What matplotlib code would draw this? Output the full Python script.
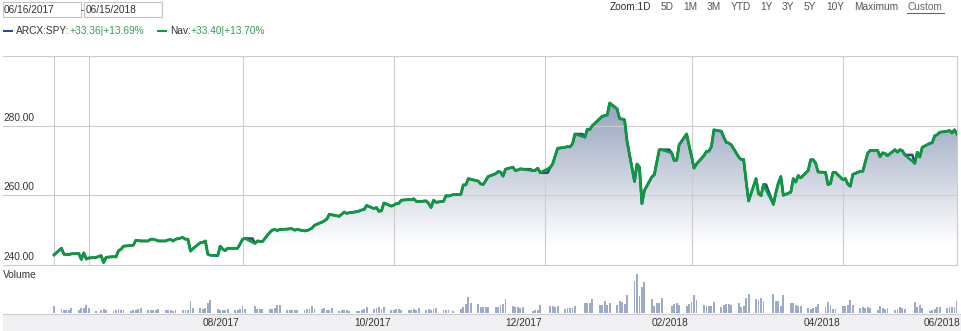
import numpy as np
import pandas as pd
import matplotlib
matplotlib.use("Agg")
import matplotlib.pyplot as plt
import matplotlib.dates as mdates
from matplotlib.patches import Rectangle
from matplotlib.lines import Line2D

plt.rcParams["font.family"] = ["Liberation Sans", "DejaVu Sans"]

W, H = 961, 331

start, end = "2017-06-16", "2018-06-15"
holidays = ["2017-07-04", "2017-09-04", "2017-11-23", "2017-12-25", "2018-01-01",
            "2018-01-15", "2018-02-19", "2018-03-30", "2018-05-28"]
# the SPY series keeps a flat point on these market holidays
spy_holidays = ["2017-09-04", "2017-12-25", "2018-01-01", "2018-01-15",
                "2018-02-19", "2018-03-30", "2018-05-28"]

# closing values, one row per trading week
nav = [
    242.9,
    244.8, 243.1, 243.0, 243.0, 243.2,
    243.3, 241.6, 243.5, 241.7, 242.0,
    242.2, 242.7, 240.7, 242.2,
    242.4, 242.3, 244.1, 244.5, 245.4,
    245.6, 245.7, 247.1, 247.0, 246.9,
    246.9, 247.4, 247.4, 247.2, 246.9,
    246.9, 247.2, 247.3, 246.9, 247.4,
    247.9, 247.4, 247.4, 244.0, 244.7,
    246.4, 246.5, 246.9, 243.1, 242.8,
    242.7, 245.4, 244.6, 244.1, 244.8,
    244.8, 244.8, 246.0, 247.4, 247.6,
    246.2, 246.9, 246.8, 246.7,
    249.4, 250.0, 250.2, 249.9, 250.2,
    250.3, 250.4, 250.4, 250.0, 250.2,
    249.8, 249.9, 250.2, 250.6, 251.4,
    252.3, 252.7, 253.2, 254.6, 254.4,
    254.0, 254.6, 255.2, 254.8, 255.0,
    255.3, 255.5, 255.8, 255.9, 257.1,
    256.2, 256.5, 255.4, 255.6, 257.8,
    256.9, 257.2, 257.6, 257.7, 258.6,
    258.8, 258.7, 259.0, 258.3, 258.2,
    258.4, 257.7, 256.5, 258.6, 258.0,
    258.3, 259.9, 259.8, 260.2,
    260.3, 263.0, 263.0, 264.8, 264.6,
    264.1, 263.3, 263.1, 264.2, 265.4,
    266.2, 266.8, 266.7, 265.5, 267.5,
    268.1, 267.1, 267.3, 267.6, 267.5,
    267.1, 267.2, 267.8, 266.5,
    268.0, 269.0, 271.2, 273.5,
    273.8, 274.0, 273.9, 274.8, 277.6,
    276.7, 279.0, 278.9, 280.0,
    282.0, 282.7, 282.9, 283.1, 286.5,
    284.8, 282.0, 281.9, 281.7, 275.5,
    264.0, 269.0, 268.1, 257.6, 261.4,
    265.3, 265.9, 269.6, 273.1, 273.1,
    272.2, 270.0, 270.1, 274.5,
    277.6, 274.3, 271.2, 267.8, 269.0,
    271.4, 272.6, 272.7, 274.0, 278.8,
    278.4, 276.7, 275.2, 275.0, 274.5,
    271.0, 270.3, 270.3, 264.0, 258.4,
    264.8, 260.5, 259.9, 263.1,
    257.4, 260.8, 263.6, 265.4, 260.0,
    260.9, 264.8, 263.8, 265.7, 265.0,
    267.1, 270.2, 270.2, 269.3, 266.7,
    266.6, 263.1, 263.4, 266.6, 266.6,
    264.5, 264.8, 263.2, 262.6, 266.0,
    266.9, 266.9, 269.5, 272.1, 272.9,
    272.9, 271.1, 272.2, 272.0, 271.4,
    273.1, 272.4, 273.1, 272.8, 271.6,
    269.2, 272.4, 271.0, 273.8,
    274.9, 275.1, 277.1, 277.4, 278.1,
    278.4, 278.6, 277.9, 278.8, 277.6,
]

# daily volume, millions of shares
volume = [
    63,
    36, 27, 27, 27, 45,
    27, 45, 45, 72, 45,
    14, 27, 36, 27,
    14, 22, 30, 22, 22,
    14, 20, 20, 36, 45,
    20, 27, 20, 27, 36,
    27, 22, 22, 14, 27,
    20, 22, 27, 105, 45,
    45, 36, 45, 90, 117,
    36, 27, 27, 27, 36,
    22, 27, 36, 63, 36,
    63, 36, 36, 36,
    36, 36, 45, 72, 72,
    22, 22, 22, 27, 22,
    27, 36, 36, 63, 36,
    36, 45, 27, 27, 45,
    18, 22, 20, 22, 18,
    14, 18, 22, 36, 54,
    36, 45, 54, 36, 54,
    27, 27, 30, 36, 27,
    22, 27, 36, 27, 45,
    27, 36, 27, 36, 45,
    22, 27, 22, 12,
    36, 54, 81, 144, 90,
    81, 54, 50, 54, 50,
    54, 54, 72, 81, 126,
    63, 54, 54, 45, 54,
    18, 27, 27, 72,
    63, 63, 54, 63,
    36, 40, 45, 40, 63,
    90, 90, 90, 126,
    72, 72, 108, 72, 90,
    72, 108, 99, 81, 162,
    288, 351, 153, 234, 279,
    126, 63, 90, 90, 135,
    63, 81, 90, 72,
    63, 81, 99, 162, 117,
    72, 63, 63, 63, 99,
    54, 72, 81, 81, 72,
    90, 54, 63, 135, 171,
    126, 117, 135, 108,
    171, 108, 108, 63, 162,
    90, 90, 72, 63, 63,
    45, 36, 45, 54, 81,
    54, 99, 72, 36, 36,
    63, 63, 72, 117, 72,
    45, 54, 45, 54, 45,
    27, 63, 45, 36, 45,
    27, 36, 54, 45, 36,
    99, 54, 72, 45,
    18, 27, 36, 54, 54,
    45, 54, 54, 54, 108,
]

grid_dates = ["2017-06-30", "2017-08-31", "2017-10-31", "2017-12-31", "2018-02-28", "2018-04-30"]
label_dates = ["2017-08-31", "2017-10-31", "2017-12-31", "2018-02-28", "2018-04-30", "2018-06-30"]
month_labels = ["08/2017", "10/2017", "12/2017", "02/2018", "04/2018", "06/2018"]
price_ticks = [240, 260, 280]
price_grid = [240, 260, 280, 300]

legend_spy = ("ARCX:SPY:", "+33.36|+13.69%")
legend_nav = ("Nav:", "+33.40|+13.70%")
zoom_items = ["Zoom:1D", "5D", "1M", "3M", "YTD", "1Y", "3Y", "5Y", "10Y", "Maximum", "Custom"]
zoom_x = [610, 661, 683, 707, 731, 760, 782, 804, 826, 854, 907]

days = pd.bdate_range(start, end)
days = days[~days.isin(pd.to_datetime(holidays))]
nav_s = pd.Series(nav, index=days)
spy_s = nav_s.reindex(days.union(pd.to_datetime(spy_holidays))).ffill()
xd = mdates.date2num(days)
xs = mdates.date2num(spy_s.index)

TXT = "#333333"
GRID = "#cccccc"
GREEN = "#0b9a3c"
BLUE = "#2b4c7e"
FS = 7.3

fig = plt.figure(figsize=(W / 100, H / 100), dpi=100)
fig.patch.set_facecolor("white")


def box(l, t, r, b):
    return [l / W, 1 - b / H, (r - l) / W, (b - t) / H]


def ftext(x, y, s, **kw):
    kw.setdefault("fontsize", FS)
    kw.setdefault("color", TXT)
    kw.setdefault("va", "center")
    return fig.text(x / W, 1 - y / H, s, **kw)


ax = fig.add_axes(box(3, 56, 957, 265))
vax = fig.add_axes(box(3, 271, 957, 312.5))

x0 = mdates.date2num(pd.Timestamp(start))
x1 = mdates.date2num(pd.Timestamp(end))
ppd = (957 - 54) / (x1 - x0)
xlim = (x0 - (54 - 3) / ppd, x1)

# gradient area under the nav line
top = np.array([0.45, 0.52, 0.66])
v = np.linspace(240, 300, 400)
t = np.clip((v - 246) / 54, 0, 1)[:, None]
img = (1 - t * (1 - top))[:, None, :]
im = ax.imshow(img, extent=(xlim[0], xlim[1], 240, 300), origin="lower",
               aspect="auto", interpolation="bilinear", zorder=1)
poly = ax.fill_between(xd, nav, 240, facecolor="none", edgecolor="none")
im.set_clip_path(poly.get_paths()[0], transform=ax.transData)

for g in price_grid:
    ax.axhline(g, color=GRID, lw=0.8, zorder=2, clip_on=False)
for d in [start] + grid_dates:
    ax.axvline(mdates.date2num(pd.Timestamp(d)), color=GRID, lw=0.8, zorder=2)
ax.axvline(xlim[1], color=GRID, lw=0.8, zorder=2, clip_on=False)

ax.plot(xs, spy_s.values, color=BLUE, lw=1.9, zorder=3, solid_joinstyle="round")
ax.plot(xd, nav, color=GREEN, lw=1.9, zorder=4, solid_joinstyle="round")

for tk in price_ticks:
    ax.annotate(f"{tk:.2f}", xy=(0, tk), xycoords=("axes fraction", "data"),
                xytext=(0.5, 5), textcoords="offset pixels", va="baseline",
                ha="left", fontsize=FS, color=TXT, zorder=5)

ax.set_xlim(xlim)
ax.set_ylim(240, 300)
ax.axis("off")

vax.bar(xd, volume, width=0.75, color="#9eabc6", align="center")
vax.set_xlim(xlim)
vax.set_ylim(0, 378)
vax.axis("off")

# bottom axis band
fig.add_artist(Rectangle((3 / W, 0), (W - 3) / W, 17 / H, transform=fig.transFigure,
                         facecolor="#f0f0f2", edgecolor="none"))
fig.add_artist(Line2D([3 / W, 1], [1 - 314 / H] * 2, color=GRID, lw=0.8))
fig.canvas.draw()
for d, lab in zip(label_dates, month_labels):
    xpx = ax.transData.transform((mdates.date2num(pd.Timestamp(d)), 250))[0] - 3
    xpx = min(xpx, W - 1)
    ftext(xpx, 322.5, lab, ha="right")

ftext(3, 275, "Volume")

# header: date range boxes
for l, r, s in [(2.5, 80.5, "06/16/2017"), (84, 162, "06/15/2018")]:
    fig.add_artist(Rectangle((l / W, 1 - 16.5 / H), (r - l) / W, 14.5 / H,
                             transform=fig.transFigure, facecolor="white",
                             edgecolor="#c4c4c4", lw=0.8))
    ftext(l + 1.2, 9.8, s)
ftext(80.6, 9.8, "-")

# legend
fig.add_artist(Rectangle((3.3 / W, 1 - 32.4 / H), 9.4 / W, 2.6 / H,
                         transform=fig.transFigure, facecolor=BLUE, edgecolor="none"))
ftext(16.3, 31.3, legend_spy[0])
ftext(69.3, 31.3, legend_spy[1], color="#359a55")
fig.add_artist(Rectangle((157.3 / W, 1 - 32.4 / H), 9.4 / W, 2.6 / H,
                         transform=fig.transFigure, facecolor=GREEN, edgecolor="none"))
ftext(170, 31.3, legend_nav[0])
ftext(190.7, 31.3, legend_nav[1], color="#359a55")

# zoom buttons
for zx, s in zip(zoom_x, zoom_items):
    col = "#666666" if s == "Custom" else ("#333333" if s.startswith("Zoom") else "#555555")
    ftext(zx, 6.5, s, color=col)
fig.add_artist(Line2D([907 / W, 944 / W], [1 - 12.5 / H] * 2, color="#666666", lw=0.8))

fig.savefig("out.png", dpi=100)
